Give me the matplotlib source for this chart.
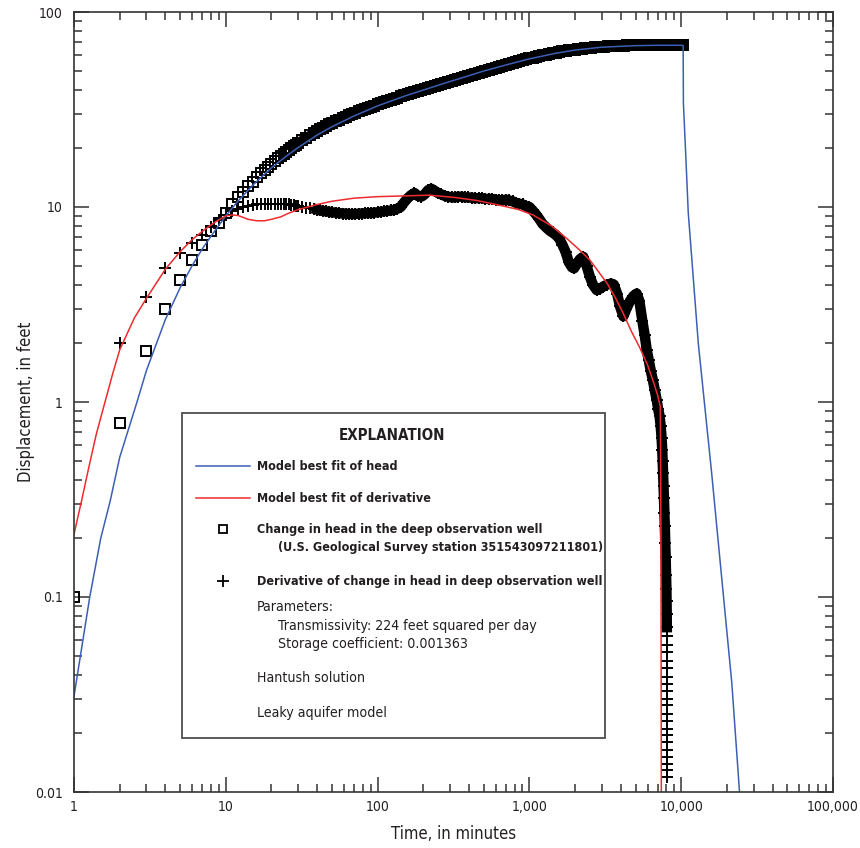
import matplotlib
matplotlib.use('Agg')
import matplotlib.pyplot as plt
from matplotlib.ticker import LogLocator, FixedLocator, FixedFormatter, NullFormatter
from matplotlib.patches import Rectangle
from matplotlib.lines import Line2D

FONT = ['DejaVu Sans']
STRETCH = 'condensed'
TXT = '#231f20'
BLUE = '#3c5fb4'
RED = '#ee2b2e'

# observed change in head (squares), minutes / feet
head_t = [1, 2, 3, 4, 5, 6, 7, 8, 9, 10,
          11, 12, 13, 14, 15, 16, 17, 18, 19, 20,
          21, 22, 23, 24, 25, 26, 27, 28, 29, 30,
          32, 34, 36, 38, 40, 42, 44, 46, 48, 50,
          53, 56, 59, 62, 65, 68, 71, 75, 79, 83,
          87, 91, 95, 100, 105, 110, 116, 122, 128, 135,
          142, 150, 158, 166, 175, 184, 194, 204, 215, 226,
          238, 250, 263, 277, 292, 307, 323, 340, 358, 377,
          397, 418, 440, 463, 487, 513, 540, 568, 598, 630,
          663, 698, 735, 774, 815, 858, 903, 950, 1000, 1050,
          1100, 1160, 1220, 1280, 1350, 1420, 1490, 1570, 1650, 1730,
          1820, 1910, 2000, 2100, 2210, 2320, 2440, 2560, 2690, 2820,
          2960, 3110, 3270, 3430, 3600, 3780, 3970, 4170, 4380, 4600,
          4830, 5070, 5320, 5590, 5870, 6160, 6470, 6790, 7130, 7490,
          7860, 8250, 8660, 9090, 9550, 10000, 10150, 10300]
head_v = [0.1, 0.78, 1.82, 3.0, 4.2, 5.35, 6.4, 7.5, 8.3, 9.3,
          10.3, 11.2, 12.0, 12.8, 13.5, 14.2, 14.9, 15.5, 16.1, 16.7,
          17.25, 17.8, 18.3, 18.8, 19.25, 19.7, 20.1, 20.5, 20.9, 21.3,
          22.0, 22.7, 23.3, 23.9, 24.5, 25.0, 25.5, 26.0, 26.5, 26.9,
          27.5, 28.0, 28.5, 29.0, 29.5, 29.9, 30.3, 30.9, 31.4, 31.8,
          32.2, 32.7, 33.1, 33.6, 34.0, 34.5, 35.0, 35.5, 35.9, 36.4,
          36.9, 37.4, 37.9, 38.4, 38.9, 39.4, 39.9, 40.4, 40.9, 41.4,
          41.9, 42.4, 42.9, 43.4, 43.9, 44.4, 44.9, 45.4, 45.9, 46.4,
          46.9, 47.5, 48.1, 48.7, 49.3, 49.9, 50.5, 51.1, 51.7, 52.3,
          52.9, 53.5, 54.2, 54.8, 55.4, 56.0, 56.6, 57.2, 57.8, 58.4,
          58.9, 59.5, 60.0, 60.5, 61.0, 61.5, 61.9, 62.4, 62.8, 63.2,
          63.6, 63.9, 64.2, 64.5, 64.8, 65.1, 65.4, 65.6, 65.8, 66.0,
          66.2, 66.4, 66.6, 66.8, 67.0, 67.1, 67.2, 67.3, 67.4, 67.5,
          67.6, 67.6, 67.7, 67.7, 67.8, 67.8, 67.8, 67.8, 67.8, 67.8,
          67.8, 67.8, 67.7, 67.7, 67.6, 67.6, 67.5, 67.5]

# derivative of change in head (plus signs)
deriv_t = [2, 3, 4, 5, 6, 7, 8, 9, 10, 11,
           12, 13, 14, 15, 16, 17, 18, 19, 20, 21,
           22, 23, 24, 25, 26, 27, 28, 29, 30, 32,
           34, 36, 38, 40, 42, 44, 46, 48, 50, 53,
           56, 59, 62, 65, 68, 71, 75, 79, 83, 87,
           91, 95, 100, 105, 110, 116, 122, 128, 135, 142,
           150, 158, 166, 175, 184, 194, 204, 215, 226, 238,
           250, 263, 277, 292, 307, 323, 340, 358, 377, 397,
           418, 440, 463, 487, 513, 540, 568, 598, 630, 663,
           698, 735, 774, 815, 858, 903, 950, 1000, 1050, 1100,
           1160, 1220, 1280, 1350, 1420, 1490, 1570, 1650, 1730, 1820,
           1910, 1970, 2050, 2150, 2265, 2380, 2500, 2620, 2774, 2900,
           3050, 3250, 3450, 3600, 3780, 3950, 4156, 4350, 4600, 4850,
           5093, 5300, 5550, 5750, 5929, 6100, 6300, 6500, 6700, 6900,
           7050, 7200, 7330, 7430, 7500, 7550, 7600, 7650, 7700, 7750,
           7800, 7850, 7900, 7950, 7990, 8010, 8030, 8040]
deriv_v = [2.0, 3.45, 4.85, 5.8, 6.5, 7.2, 7.9, 8.6, 9.1, 9.5,
           9.8, 10.0, 10.1, 10.2, 10.3, 10.3, 10.35, 10.4, 10.4, 10.4,
           10.4, 10.4, 10.35, 10.3, 10.3, 10.25, 10.2, 10.15, 10.1, 10.0,
           9.9, 9.85, 9.75, 9.7, 9.6, 9.55, 9.5, 9.45, 9.4, 9.35,
           9.3, 9.25, 9.25, 9.2, 9.2, 9.2, 9.25, 9.25, 9.3, 9.3,
           9.3, 9.35, 9.4, 9.45, 9.5, 9.55, 9.6, 9.65, 9.8, 10.0,
           10.6, 11.1, 11.5, 11.8, 11.4, 11.3, 11.6, 12.2, 12.4, 12.1,
           11.8, 11.6, 11.4, 11.3, 11.2, 11.2, 11.3, 11.3, 11.2, 11.2,
           11.15, 11.1, 11.1, 11.1, 11.0, 11.0, 11.0, 10.9, 10.85, 10.8,
           10.9, 10.8, 10.7, 10.5, 10.4, 10.3, 10.1, 10.0, 9.6, 9.2,
           8.7, 8.2, 7.9, 7.6, 7.4, 7.2, 6.9, 6.4, 5.9, 5.2,
           4.9, 4.85, 5.1, 5.4, 5.55, 5.0, 4.4, 4.0, 3.75, 3.8,
           3.9, 4.0, 4.05, 4.0, 3.6, 3.1, 2.75, 3.0, 3.3, 3.5,
           3.6, 3.3, 2.6, 2.2, 1.85, 1.65, 1.45, 1.3, 1.15, 1.02,
           0.92, 0.85, 0.75, 0.65, 0.57, 0.5, 0.43, 0.37, 0.32, 0.27,
           0.23, 0.19, 0.16, 0.13, 0.11, 0.095, 0.082, 0.07]

# the final vertical drop of the derivative near 8,000 minutes
drop_t = [8050, 8060, 8060, 8070, 8060, 8060, 8070, 8060, 8060, 8070,
          8060, 8060, 8070, 8060, 8060, 8070, 8060, 8060, 8070, 8060]
drop_v = [0.063, 0.057, 0.052, 0.047, 0.043, 0.039, 0.036, 0.033, 0.03, 0.028,
          0.025, 0.023, 0.021, 0.0195, 0.018, 0.0165, 0.0152, 0.014, 0.013, 0.012]

# model best fit of head (blue)
model_head_t = [1, 1.27, 1.5, 1.73, 2, 2.6, 3, 4, 5, 6,
                7, 8, 10, 12, 15, 20, 25, 30, 40, 50,
                70, 100, 150, 200, 300, 500, 700, 1000, 1500, 2000,
                3000, 5000, 7000, 10000, 10300, 10340, 10700, 11130, 12960, 15880,
                18490, 21530, 24380]
model_head_v = [0.031, 0.1, 0.2, 0.31, 0.52, 1.0, 1.45, 2.65, 3.85, 5.0,
                6.1, 7.1, 9.0, 10.7, 12.9, 15.9, 18.2, 20.2, 23.4, 25.8,
                29.3, 33.0, 37.0, 39.8, 44.0, 49.8, 53.5, 57.5, 61.5, 63.8,
                66.0, 67.2, 67.5, 67.5, 67.3, 34.0, 18.9, 9.35, 2.0, 0.43,
                0.125, 0.0365, 0.0093]

# model best fit of derivative (red)
model_der_t = [1, 1.12, 1.25, 1.4, 1.6, 1.8, 2, 2.5, 3, 4,
               5, 6, 7, 8, 9, 10, 11, 12, 13, 14,
               16, 18, 20, 23, 26, 30, 40, 50, 70, 100,
               150, 220, 320, 450, 640, 850, 1057, 1400, 1760, 2100,
               2500, 3250, 3700, 4150, 4700, 5300, 6000, 6600, 7000, 7280,
               7320, 7350, 7370, 7390, 7400]
model_der_v = [0.21, 0.31, 0.46, 0.68, 1.0, 1.4, 1.85, 2.7, 3.4, 4.8,
               5.9, 6.8, 7.5, 8.1, 8.6, 9.0, 9.1, 9.05, 8.85, 8.65,
               8.5, 8.5, 8.65, 8.9, 9.3, 9.7, 10.3, 10.7, 11.1, 11.3,
               11.4, 11.5, 11.2, 10.8, 10.2, 9.7, 9.1, 8.0, 6.9, 6.1,
               5.35, 4.06, 3.4, 2.85, 2.3, 1.92, 1.55, 1.25, 1.08, 0.95,
               0.5, 0.2, 0.07, 0.02, 0.009]

x_ticks = [1, 10, 100, 1000, 10000, 100000]
x_labels = ['1', '10', '100', '1,000', '10,000', '100,000']
y_ticks = [0.01, 0.1, 1, 10, 100]
y_labels = ['0.01', '0.1', '1', '10', '100']

fig = plt.figure(figsize=(8.6, 8.48), dpi=100)
ax = fig.add_axes([74 / 860, 1 - 792 / 848, 759 / 860, 780 / 848])
ax.set_xscale('log')
ax.set_yscale('log')
ax.set_xlim(1, 100000)
ax.set_ylim(0.01, 100)

# where the observations crowd together they merge into a solid black band
head_dense = head_t.index(30)
deriv_dense = deriv_t.index(40)
ax.plot(head_t[head_dense:], head_v[head_dense:], color='black', lw=7,
        solid_joinstyle='round')
ax.plot(deriv_t[deriv_dense:], deriv_v[deriv_dense:], color='black', lw=7.5,
        solid_joinstyle='round')

plus_style = dict(ls='none', marker='+', ms=8.5, mec='black', mew=1.4)
ax.plot(head_t, head_v, ls='none', marker='s', ms=7, mfc='none', mec='black', mew=1.4)
ax.plot(deriv_t, deriv_v, **plus_style)
ax.plot(drop_t, drop_v, **plus_style)
ax.plot(model_head_t, model_head_v, color=BLUE, lw=1.1)
ax.plot(model_der_t, model_der_v, color=RED, lw=1.1)

# ticks
ax.xaxis.set_major_locator(FixedLocator(x_ticks))
ax.xaxis.set_major_formatter(FixedFormatter(x_labels))
ax.yaxis.set_major_locator(FixedLocator(y_ticks))
ax.yaxis.set_major_formatter(FixedFormatter(y_labels))
for axis in (ax.xaxis, ax.yaxis):
    axis.set_minor_locator(LogLocator(base=10, subs=range(2, 10), numticks=20))
    axis.set_minor_formatter(NullFormatter())
ax.tick_params(which='both', direction='in', top=True, right=True, color='#333333', width=1.1)
ax.tick_params(which='major', length=11)
ax.tick_params(which='minor', length=6)
ax.tick_params(axis='y', pad=8)
ax.tick_params(axis='x', pad=6)
for lab in ax.get_xticklabels() + ax.get_yticklabels():
    lab.set_family(FONT)
    lab.set_fontstretch(STRETCH)
    lab.set_fontsize(10)
    lab.set_color(TXT)
for s in ax.spines.values():
    s.set_color('#333333')
    s.set_linewidth(1.2)

ax.set_xlabel('Time, in minutes', family=FONT, fontstretch=STRETCH, fontsize=12,
              color=TXT, labelpad=8)
ax.set_ylabel('Displacement, in feet', family=FONT, fontstretch=STRETCH, fontsize=12,
              color=TXT, labelpad=0)


def pos(x, y):
    # pixel position of the reference picture -> axes fraction
    return ((x - 74) / 759, (792 - y) / 780)


# explanation box
x0, y0 = pos(182, 738)
x1, y1 = pos(605, 413)
ax.add_patch(Rectangle((x0, y0), x1 - x0, y1 - y0, transform=ax.transAxes,
                       fill=True, fc='white', ec='#4d4d4d', lw=1.3, zorder=5))


def note(x, y, s, bold=False, ha='left', size=None):
    if size is None:
        size = 9.0 if bold else 10.2
    ax.text(*pos(x, y), s, transform=ax.transAxes, ha=ha, va='center', family=FONT,
            fontstretch=STRETCH, fontsize=size, color=TXT,
            fontweight='bold' if bold else 'normal', zorder=6)


note(392, 435, 'EXPLANATION', bold=True, ha='center', size=10.8)
ax.add_line(Line2D([pos(196, 0)[0], pos(250, 0)[0]], [pos(0, 466)[1]] * 2,
                   transform=ax.transAxes, color=BLUE, lw=1.1, zorder=6))
note(257, 466, 'Model best fit of head', bold=True)
ax.add_line(Line2D([pos(196, 0)[0], pos(250, 0)[0]], [pos(0, 498)[1]] * 2,
                   transform=ax.transAxes, color=RED, lw=1.1, zorder=6))
note(257, 498, 'Model best fit of derivative', bold=True)
ax.plot(*pos(223, 529), marker='s', ms=6, mfc='none', mec='black', mew=1.3,
        transform=ax.transAxes, zorder=6)
note(257, 530, 'Change in head in the deep observation well', bold=True)
note(278, 548, '(U.S. Geological Survey station 351543097211801)', bold=True)
ax.plot(*pos(223, 581), marker='+', ms=8, mec='black', mew=1.3,
        transform=ax.transAxes, zorder=6)
note(257, 581, 'Derivative of change in head in deep observation well', bold=True)
note(257, 607, 'Parameters:')
note(278, 626, 'Transmissivity: 224 feet squared per day')
note(278, 644, 'Storage coefficient: 0.001363')
note(257, 678, 'Hantush solution')
note(257, 713, 'Leaky aquifer model')

fig.savefig('out.png', dpi=100)
